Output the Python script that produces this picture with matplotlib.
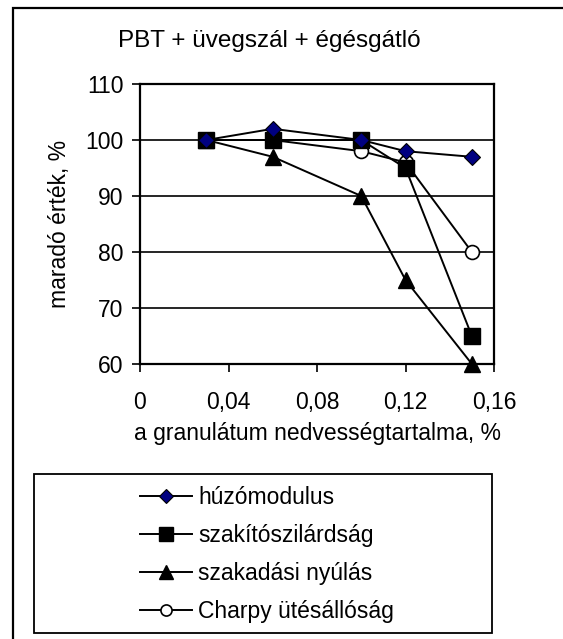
import matplotlib
matplotlib.use("Agg")
import matplotlib.pyplot as plt
from matplotlib.patches import Rectangle

plt.rcParams['font.family'] = ['Liberation Sans', 'DejaVu Sans']

# adatok
nedvesseg = [0.03, 0.06, 0.10, 0.12, 0.15]
huzomodulus = [100, 102, 100, 98, 97]
szakitoszil = [100, 100, 100, 95, 65]
szakadasi = [100, 97, 90, 75, 60]
charpy = [100, 100, 98, 96, 80]
xticks = [0, 0.04, 0.08, 0.12, 0.16]
xticklabels = ['0', '0,04', '0,08', '0,12', '0,16']
yticks = [60, 70, 80, 90, 100, 110]

W, H = 563, 639
fs = 16.5
fig = plt.figure(figsize=(W / 100, H / 100), dpi=100)
ax = fig.add_axes([140 / W, 1 - 364 / H, 354 / W, 280 / H])

ax.plot(nedvesseg, huzomodulus, color='black', lw=1.4, marker='D', ms=8.5,
        mfc='#000080', mec='black', mew=0.8, label='húzómodulus', zorder=6,
        clip_on=False)
ax.plot(nedvesseg, szakitoszil, color='black', lw=1.4, marker='s', ms=12,
        mfc='black', mec='black', label='szakítószilárdság', zorder=4,
        clip_on=False)
ax.plot(nedvesseg, szakadasi, color='black', lw=1.4, marker='^', ms=12,
        mfc='black', mec='black', label='szakadási nyúlás', zorder=5,
        clip_on=False)
ax.plot(nedvesseg, charpy, color='black', lw=1.4, marker='o', ms=10,
        mfc='white', mec='black', mew=1.2, label='Charpy ütésállóság', zorder=3,
        clip_on=False)

ax.set_xlim(0, 0.16)
ax.set_ylim(60, 110)
ax.set_xticks(xticks)
ax.set_xticklabels(xticklabels)
ax.set_yticks(yticks)
ax.tick_params(labelsize=fs, length=6, width=1.2, color='black')
ax.tick_params(axis='x', pad=13.5)
ax.tick_params(axis='y', pad=6)
ax.yaxis.grid(True, color='black', lw=1.2)
ax.set_axisbelow(True)
for s in ax.spines.values():
    s.set_linewidth(1.6)

ax.set_xlabel('a granulátum nedvességtartalma, %', fontsize=fs, labelpad=6)
ax.set_ylabel('maradó érték, %', fontsize=fs, labelpad=10)
fig.text(269 / W, 1 - 47 / H, 'PBT + üvegszál + égésgátló', fontsize=17.5,
         ha='center', va='baseline')

leg = fig.legend(loc='upper left', bbox_to_anchor=(140 / W, 1 - 486 / H),
                 frameon=False, fontsize=fs, handlelength=2.25,
                 handletextpad=0.3, labelspacing=0.65, borderpad=0,
                 borderaxespad=0, markerscale=0.8)

# keretek
fig.patches.append(Rectangle((34 / W, 1 - 633 / H), 458 / W, 159 / H,
                             transform=fig.transFigure, fill=False,
                             ec='black', lw=1.3))
fig.patches.append(Rectangle((13 / W, -0.1), 1.0, 1.1 - 8 / H,
                             transform=fig.transFigure, fill=False,
                             ec='black', lw=1.6))

fig.savefig('out.png', dpi=100)
